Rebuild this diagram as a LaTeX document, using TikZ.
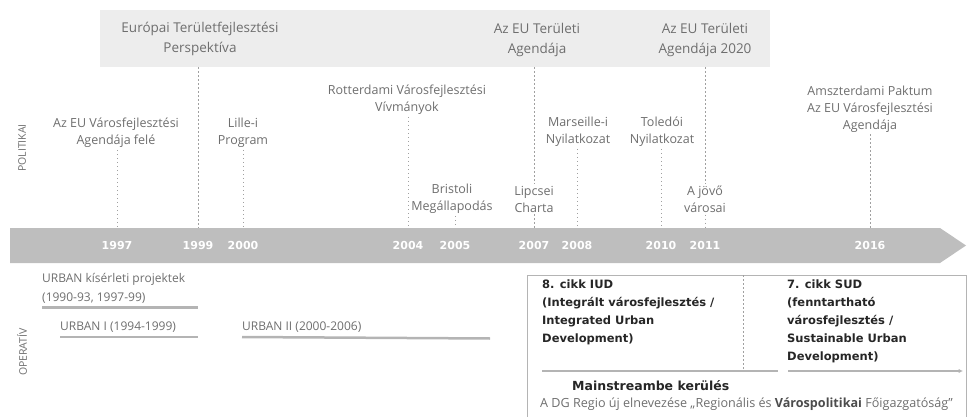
\documentclass[tikz,border=0pt]{standalone}
\usepackage{fontspec}
\setmainfont{Open Sans}
\newfontfamily\boxfont{DejaVu Sans}
\usepackage{tikz}
\usetikzlibrary{arrows.meta}
\tikzset{>={Latex[width=1.5mm,length=1.5mm]}}
\definecolor{txt}{HTML}{6E6E6E}
\definecolor{bandgray}{HTML}{EDEDED}
\definecolor{axisgray}{HTML}{BEBEBE}
\definecolor{dotgray}{HTML}{A0A0A0}
\definecolor{linegray}{HTML}{B4B4B4}
\tikzset{
  bandtext/.style={align=center, text=txt, font=\fontsize{13.5}{20}\selectfont},
  event/.style={align=center, text=txt, font=\fontsize{12.5}{17}\selectfont, inner sep=2pt},
  year/.style={text=white, font=\boxfont\bfseries\fontsize{11}{12}\selectfont, minimum height=35pt, inner sep=0pt},
  side/.style={rotate=90, text=txt, font=\fontsize{10.5}{12}\selectfont},
  prog/.style={anchor=west, align=left, text=txt, font=\fontsize{12}{19}\selectfont, inner xsep=0pt, inner ysep=4.5pt},
  cikk/.style={anchor=north west, align=left, text=black!85, font=\boxfont\bfseries\fontsize{11.5}{17.8}\selectfont, inner sep=0pt},
  dotline/.style={dotgray, line width=1pt, dash pattern=on 1.5pt off 2.5pt},
  progline/.style={linegray, line width=2.5pt},
  mainline/.style={linegray, line width=1.5pt}
}

\begin{document}
\begin{tikzpicture}[x=1pt, y=-1pt]
    \useasboundingbox (0,0) rectangle (969,417);

    \node[fill=bandgray, minimum width=670pt, minimum height=57pt, inner sep=0pt] (BAND) at (435,38.5) {};
    \node[bandtext] (ETP) at (200,39) {Európai Területfejlesztési\\Perspektíva};
    \node[bandtext] (TA) at (537,40) {Az EU Területi\\Agendája};
    \node[bandtext] (TA2020) at (705,40) {Az EU Területi\\Agendája 2020};

    \fill[axisgray] (10,228) -- (940,228) -- (966,245.5) -- (940,263) -- (10,263) -- cycle;

    \node[year] (Y1997) at (117,245.5) {1997};
    \node[year] (Y1999) at (198,245.5) {1999};
    \node[year] (Y2000) at (243,245.5) {2000};
    \node[year] (Y2004) at (408,245.5) {2004};
    \node[year] (Y2005) at (455,245.5) {2005};
    \node[year] (Y2007) at (534,245.5) {2007};
    \node[year] (Y2008) at (577,245.5) {2008};
    \node[year] (Y2010) at (661,245.5) {2010};
    \node[year] (Y2011) at (705,245.5) {2011};
    \node[year] (Y2016) at (870,245.5) {2016};

    \node[side] (POL) at (22,148) {POLITIKAI};
    \node[side] (OPER) at (22,352) {OPERATÍV};

    \node[event] (EUVA) at (116,133) {Az EU Városfejlesztési\\Agendája felé};
    \node[event] (LILLE) at (243,133) {Lille-i\\Program};
    \node[event] (ROTT) at (407,100) {Rotterdami Városfejlesztési\\Vívmányok};
    \node[event] (BRIS) at (452,199) {Bristoli\\Megállapodás};
    \node[event] (LIPCSE) at (534,199) {Lipcsei\\Charta};
    \node[event] (MARS) at (578,132) {Marseille-i\\Nyilatkozat};
    \node[event] (TOLEDO) at (662,132) {Toledói\\Nyilatkozat};
    \node[event] (JOVO) at (705,199) {A jövő\\városai};
    \node[event] (AMSZT) at (870,109) {Amszterdami Paktum\\Az EU Városfejlesztési\\Agendája};

    \draw[dotline] (Y1999 |- BAND.south) -- (Y1999.north);
    \draw[dotline] (Y2007 |- BAND.south) -- (LIPCSE.north);
    \draw[dotline] (Y2011 |- BAND.south) -- (JOVO.north);
    \draw[dotline] (Y1997 |- EUVA.south) -- (Y1997.north);
    \draw[dotline] (Y2000 |- LILLE.south) -- (Y2000.north);
    \draw[dotline] (Y2004 |- ROTT.south) -- (Y2004.north);
    \draw[dotline] (Y2005 |- BRIS.south) -- (Y2005.north);
    \draw[dotline] (Y2007 |- LIPCSE.south) -- (Y2007.north);
    \draw[dotline] (Y2008 |- MARS.south) -- (Y2008.north);
    \draw[dotline] (Y2010 |- TOLEDO.south) -- (Y2010.north);
    \draw[dotline] (Y2011 |- JOVO.south) -- (Y2011.north);
    \draw[dotline] (Y2016 |- AMSZT.south) -- (Y2016.north);

    \node[prog] (URB0) at (42,288) {URBAN kísérleti projektek\\(1990-93, 1997-99)};
    \node[prog] (URB1) at (60,327) {URBAN I (1994-1999)};
    \node[prog] (URB2) at (242,327) {URBAN II (2000-2006)};
    \coordinate (E2006) at (490,338.5);

    \draw[progline] (URB0.south west) -- (URB0.south west -| Y1999);
    \draw[progline] (URB1.south west) -- (URB1.south west -| Y1999);
    \draw[progline] (URB2.south west) -- (E2006);

    \draw[linegray, line width=1pt] (527,417) -- (527,275) -- (966,275) -- (966,417);
    \coordinate (DIVTOP) at (743,275);
    \coordinate (DIVBOT) at (743,372);
    \draw[dotline, line width=0.6pt] (DIVTOP) -- (DIVBOT);

    \node[cikk] (IUD) at (542,280) {8. cikk IUD\\(Integrált városfejlesztés /\\Integrated Urban\\Development)};
    \node[cikk] (SUD) at (787,280) {7. cikk SUD\\(fenntartható\\városfejlesztés /\\Sustainable Urban\\Development)};

    \coordinate (MS0) at (542,371);
    \coordinate (MS1) at (778,371);
    \coordinate (MS2) at (788,371);
    \coordinate (MS3) at (963,371);
    \draw[mainline] (MS0) -- (MS1);
    \draw[mainline, ->] (MS2) -- (MS3);

    \node[anchor=west, inner sep=0pt, text=black!85, font=\boxfont\bfseries\fontsize{12.5}{14}\selectfont] (MAIN) at (572,386) {Mainstreambe kerülés};
    \node[anchor=west, inner sep=0pt, text=txt, font=\fontsize{12.6}{13}\selectfont] (DG) at (540,404) {A DG Regio új elnevezése „Regionális és \textbf{\color{black!70}Várospolitikai} Főigazgatóság”};

  \end{tikzpicture}
\end{document}
